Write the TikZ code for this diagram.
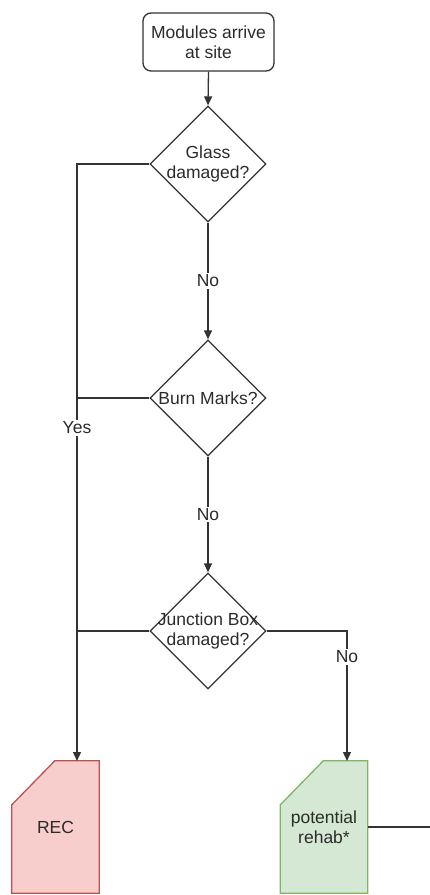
\documentclass[tikz,border=0pt]{standalone}
\usepackage{fontspec}
\setmainfont{Liberation Sans}
\usetikzlibrary{shapes.geometric,arrows.meta,calc}
\definecolor{inkgray}{HTML}{2B2B2B}
\definecolor{linegray}{HTML}{333333}
\definecolor{recfill}{HTML}{F8CECC}
\definecolor{recline}{HTML}{B85450}
\definecolor{okfill}{HTML}{D5E8D4}
\definecolor{okline}{HTML}{82B366}
\tikzset{
  every node/.style={font=\fontsize{17.5}{20.5}\selectfont, text=inkgray},
  conn/.style={draw=linegray, line width=1.3pt},
  flow/.style={conn, -{Triangle[length=9pt,width=8pt]}},
  startbox/.style={draw=linegray, line width=1.3pt, rounded corners=8pt,
    minimum width=131pt, minimum height=58pt, align=center, inner sep=0pt},
  decision/.style={draw=linegray, line width=1.3pt, diamond, inner sep=0pt,
    minimum width=116pt, minimum height=116pt},
  cardframe/.style={minimum width=87pt, minimum height=132pt, align=center, inner sep=0pt},
  tag/.style={fill=white, inner sep=1.5pt}
}
\newcommand{\cardoutline}[3]{%
  \fill[#2] ($(#1.north west)+(0,44)$) -- ($(#1.north west)+(43,0)$) --
    (#1.north east) -- (#1.south east) -- (#1.south west) -- cycle;
  \draw[#3, line width=1.3pt] ($(#1.north west)+(0,44)$) -- ($(#1.north west)+(43,0)$) --
    (#1.north east) -- (#1.south east) -- (#1.south west) -- cycle;
}
\begin{document}
\begin{tikzpicture}[x=1pt, y=-1pt]
\useasboundingbox (0,0) rectangle (430,895);

% process steps
\node[startbox] (start) at (208.5,42) {Modules arrive\\at site};
\node[decision, label={[align=center]center:Glass\\damaged?}] (d1) at (208,164) {};
\node[decision, label={[align=center]center:Burn Marks?}] (d2) at (208,398) {};
\node[decision, label={[align=center]center:Junction Box\\damaged?}] (d3) at (208,631) {};

% outcome cards
\node[cardframe] (rec) at (55.5,827) {};
\cardoutline{rec}{recfill}{recline}
\node (rectext) at (rec.center) {REC};
\node[cardframe] (rehab) at (324,827) {};
\cardoutline{rehab}{okfill}{okline}
\node[align=center] (rehabtext) at (rehab.center) {potential\\rehab*};

% connector ends
\coordinate (recin) at (77,761);
\coordinate (rehabin) at (347,761);
\coordinate (offright) at (430,827);

% connectors
\draw[flow] (start.south) -- (d1.north);
\draw[flow] (d1.south) -- node[tag] (no1) {No} (d2.north);
\draw[flow] (d2.south) -- node[tag] (no2) {No} (d3.north);
\draw[flow] (d1.west) -| (recin);
\draw[conn] (d2.west) -- (d2.west -| recin);
\draw[conn] (d3.west) -- (d3.west -| recin);
\node[tag] (yes) at (77,428) {Yes};
\draw[flow] (d3.east) -| (rehabin);
\node[tag] (no3) at (347,657) {No};
\draw[conn] (rehab.east) -- (offright);
\end{tikzpicture}
\end{document}
